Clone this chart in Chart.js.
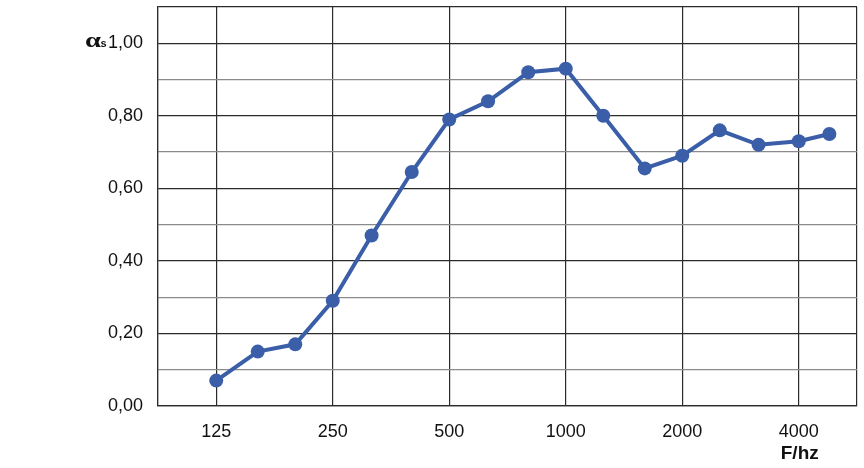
<!DOCTYPE html>
<html><head><meta charset="utf-8">
<script src="https://cdn.jsdelivr.net/npm/chart.js@4/dist/chart.umd.min.js"></script>
<style>html,body{margin:0;padding:0;background:#fff}#wrap{width:864px;height:468px}</style>
</head><body><div id="wrap"><canvas id="c" width="864" height="468"></canvas></div>
<script>
const frequencies = [125,160,200,250,315,400,500,630,800,1000,1250,1600,2000,2500,3150,4000,4800];
const absorption  = [0.07,0.15,0.17,0.29,0.47,0.645,0.79,0.84,0.92,0.93,0.80,0.655,0.69,0.76,0.72,0.73,0.75];
const xTickValues = [125,250,500,1000,2000,4000];
const yTickLabels = ['0,00','0,20','0,40','0,60','0,80','1,00'];
const yAxisSymbol = 'α';
const yAxisSubscript = 's';
const xAxisTitle = 'F/hz';

const DARK = '#2b2b2b', LIGHT = '#8a8a8a', BLUE = '#3a5ea8';
const TICK_FONT = '"Liberation Sans", Arial, sans-serif';
const xMin = 125 / Math.SQRT2, xMax = 4000 * Math.SQRT2;

const labelsPlugin = {
  id: 'extraLabels',
  afterDraw(chart) {
    const ctx = chart.ctx;
    const y = chart.scales.y;
    const x = chart.scales.x;
    const base = y.getPixelForValue(1.0) + 3.5;
    ctx.save();
    ctx.fillStyle = '#111';
    ctx.textBaseline = 'alphabetic';
    ctx.textAlign = 'left';
    ctx.font = 'bold 24px "Liberation Serif", serif';
    const w = ctx.measureText(yAxisSymbol).width;
    ctx.save();
    ctx.translate(85, base);
    ctx.scale(16 / w, 0.9);
    ctx.fillText(yAxisSymbol, 0, 0);
    ctx.restore();
    ctx.font = 'bold 11px "Liberation Sans", sans-serif';
    ctx.fillText(yAxisSubscript, 100.5, base);
    ctx.font = 'bold 19px "Liberation Sans", sans-serif';
    ctx.textAlign = 'center';
    ctx.fillText(xAxisTitle, x.getPixelForValue(4000) + 1, 459);
    ctx.restore();
  }
};

new Chart(document.getElementById('c'), {
  type: 'line',
  data: {
    datasets: [{
      data: frequencies.map((f, i) => ({x: f, y: absorption[i]})),
      borderColor: BLUE,
      backgroundColor: BLUE,
      borderWidth: 4,
      pointRadius: 7,
      pointBackgroundColor: BLUE,
      pointBorderColor: BLUE,
      pointBorderWidth: 0,
      tension: 0,
      clip: false
    }]
  },
  options: {
    responsive: false,
    animation: false,
    layout: {padding: {left: 0, right: 0, top: 0, bottom: 0}},
    plugins: {legend: {display: false}, tooltip: {enabled: false}},
    scales: {
      x: {
        type: 'logarithmic',
        min: xMin, max: xMax,
        afterBuildTicks(s) { s.ticks = [xMin, ...xTickValues, xMax].map(v => ({value: v})); },
        afterFit(s) { s.height = 62; s.paddingLeft = 0; s.paddingRight = 7; },
        ticks: {
          autoSkip: false, maxRotation: 0, padding: 15,
          color: '#111',
          font: {family: TICK_FONT, size: 18},
          callback: (v) => xTickValues.includes(v) ? String(v) : ''
        },
        grid: {color: DARK, lineWidth: 1.2, drawTicks: false},
        border: {color: DARK, width: 1.2}
      },
      y: {
        min: 0, max: 1.1,
        afterBuildTicks(s) { const t = []; for (let i = 0; i <= 11; i++) t.push({value: i / 10}); s.ticks = t; },
        afterFit(s) { s.width = 158; s.paddingTop = 6; s.paddingBottom = 0; },
        ticks: {
          padding: 15, color: '#111',
          font: {family: TICK_FONT, size: 18},
          callback: (v, i) => (i % 2 === 0 && i <= 10) ? yTickLabels[i / 2] : ''
        },
        grid: {
          drawTicks: false, lineWidth: 1.2,
          color: (c) => { const i = Math.round(c.tick.value * 10); return (i % 2 === 0 || i === 11) ? DARK : LIGHT; }
        },
        border: {color: DARK, width: 1.2}
      }
    }
  },
  plugins: [labelsPlugin]
});
</script>
</body></html>
